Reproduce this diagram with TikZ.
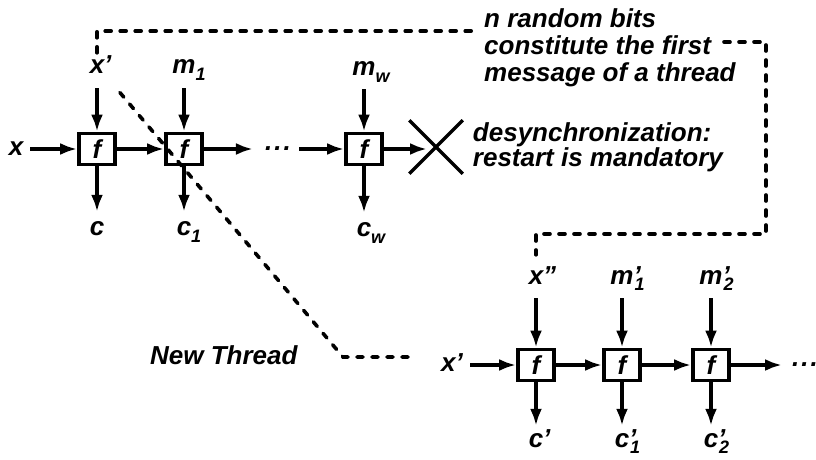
\documentclass[tikz,border=0pt]{standalone}
\usepackage{fontspec}
\setmainfont{Liberation Sans}
\usetikzlibrary{arrows.meta}
\usetikzlibrary{shapes.misc, positioning}
% index and primed index next to a letter
\newcommand{\subidx}[2]{#1\rlap{\raisebox{-7pt}{\fontsize{18}{18}\selectfont #2}}}
\newcommand{\subprime}[2]{#1\rlap{'}\rlap{\raisebox{-6pt}{\fontsize{18}{18}\selectfont\kern1pt #2}}}
\tikzset{
    fbox/.style={draw, line width=3.8pt, minimum width=36pt, minimum height=31pt, inner sep=0pt},
    lbl/.style={inner sep=0pt, anchor=base, text height=12pt, text depth=0pt},
    flow/.style={-{Latex[length=17pt,width=12pt]}, line width=3.5pt},
    feed/.style={flow, shorten <=14pt},
    emit/.style={flow, shorten >=11pt},
    thread/.style={line width=3.6pt, dash pattern=on 6pt off 9pt, line cap=round},
}

\begin{document}
\begin{tikzpicture}[x=1pt, y=-1pt, font=\fontsize{26}{27}\selectfont\bfseries\itshape]
    \useasboundingbox (0,0) rectangle (816,460);

    % First thread
    \node[fbox] (f1) at (97,149) {f};
    \node[fbox] (f2) at (184,149) {f};
    \node[fbox] (fw) at (364,149) {f};
    \node[lbl] (xin) at (16,155) {x};
    \node[inner sep=0pt] (dots1) at (278,149) {.\kern2pt.\kern2pt.};
    \node[cross out, draw, line width=3.5pt, minimum size=50pt, inner sep=0pt] (halt) at (436,147) {};

    % Inputs and outputs
    \node[lbl] (xp1) at (97,74) {x\rlap{'}};
    \node[lbl] (m1) at (184,74) {\subidx{m}{1}};
    \node[lbl] (mw) at (364,75) {\subidx{m}{w}};
    \node[lbl] (c) at (97,235) {c};
    \node[lbl] (c1) at (184,235) {\subidx{c}{1}};
    \node[lbl] (cw) at (364,236) {\subidx{c}{w}};

    \draw[flow, shorten <=7pt] (xin) -- (f1);
    \draw[flow] (f1) -- (f2);
    \draw[flow, shorten >=12pt] (f2) -- (dots1);
    \draw[flow, shorten <=8pt] (dots1) -- (fw);
    \draw[flow, shorten >=9pt] (fw) -- (fw -| halt);
    \draw[feed] (xp1) -- (f1);
    \draw[feed] (m1) -- (f2);
    \draw[feed] (mw) -- (fw);
    \draw[emit] (f1) -- (c);
    \draw[emit] (f2) -- (c1);
    \draw[emit] (fw) -- (cw);

    % New thread
    \node[fbox] (g0) at (536,365) {f};
    \node[fbox] (g1) at (622,365) {f};
    \node[fbox] (g2) at (711,365) {f};
    \node[lbl] (xp2) at (452,371) {x'};
    \node[inner sep=0pt, anchor=west] (dots2) at (792,365) {.\kern2pt.\kern2pt.};

    \node[lbl] (xpp) at (536,284) {x\rlap{''}};
    \node[lbl] (mp1) at (622,284) {\subprime{m}{1}};
    \node[lbl] (mp2) at (711,284) {\subprime{m}{2}};
    \node[lbl] (cp) at (536,447) {c\rlap{'}};
    \node[lbl] (cp1) at (622,447) {\subprime{c}{1}};
    \node[lbl] (cp2) at (711,447) {\subprime{c}{2}};

    \draw[flow, shorten <=7pt] (xp2) -- (g0);
    \draw[flow] (g0) -- (g1);
    \draw[flow] (g1) -- (g2);
    \draw[flow, shorten >=10pt] (g2) -- (dots2);
    \draw[feed] (xpp) -- (g0);
    \draw[feed] (mp1) -- (g1);
    \draw[feed] (mp2) -- (g2);
    \draw[emit, shorten >=9pt] (g0) -- (cp);
    \draw[emit, shorten >=9pt] (g1) -- (cp1);
    \draw[emit, shorten >=9pt] (g2) -- (cp2);

    % Notes
    \node[anchor=north west, inner sep=0pt, align=left] (bits) at (484,8)
        {n random bits\\constitute the first\\message of a thread};
    \node[right=10pt of halt, inner sep=0pt, align=left, font=\fontsize{26}{25}\selectfont\bfseries\itshape] (desync)
        {desynchronization:\\restart is mandatory};
    \node[anchor=base west, inner sep=0pt] (newthr) at (150,364) {New Thread};

    % Dashed links
    \coordinate (bitsin) at (478,31);
    \coordinate (firstout) at (724,42);
    \coordinate (turn) at (766,234);
    \coordinate (bend) at (343,357);
    \draw[thread, shorten <=9pt] (xp1.north) |- (bitsin);
    \draw[thread, shorten >=17pt] (firstout) -| (turn) -| (xpp.north);
    \draw[thread, shorten <=24pt, shorten >=29pt] (xp1.south east) -- (bend) -- (bend -| xp2.west);
\end{tikzpicture}
\end{document}
